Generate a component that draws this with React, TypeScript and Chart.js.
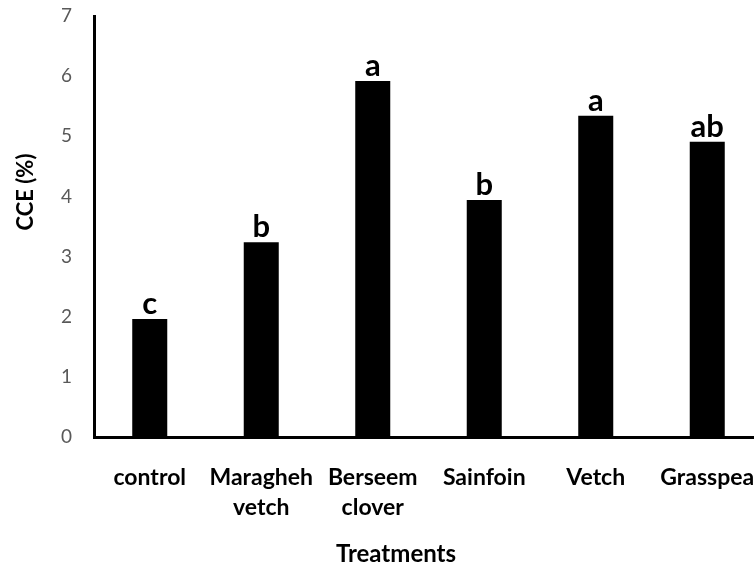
import React, { useEffect, useRef } from "react";
import { Chart, registerables } from "chart.js";

Chart.register(...registerables);

const categories: string[][] = [
  ["control"],
  ["Maragheh", "vetch"],
  ["Berseem", "clover"],
  ["Sainfoin"],
  ["Vetch"],
  ["Grasspea"],
];
const cceValues: number[] = [1.96, 3.24, 5.92, 3.94, 5.34, 4.91];
const groupLetters: string[] = ["c", "b", "a", "b", "a", "ab"];
const yTicks: number[] = [0, 1, 2, 3, 4, 5, 6, 7];
const yTitle = "CCE (%)";
const xTitle = "Treatments";

const FONT = "Lato, 'Open Sans', sans-serif";

export default function App() {
  const canvasRef = useRef<HTMLCanvasElement | null>(null);

  useEffect(() => {
    const canvas = canvasRef.current;
    if (!canvas) return;

    const lettersPlugin = {
      id: "letters",
      afterDatasetsDraw(chart: any) {
        const ctx = chart.ctx;
        const meta = chart.getDatasetMeta(0);
        ctx.save();
        ctx.fillStyle = "#000";
        ctx.font = `bold 31px ${FONT}`;
        ctx.textAlign = "center";
        ctx.textBaseline = "alphabetic";
        meta.data.forEach((el: any, i: number) => {
          ctx.fillText(groupLetters[i], el.x, el.y - 5);
        });
        ctx.restore();
      },
    };

    const titlesPlugin = {
      id: "axisTitles",
      afterDraw(chart: any) {
        const ctx = chart.ctx;
        ctx.save();
        ctx.fillStyle = "#000";
        ctx.font = `bold 22px ${FONT}`;
        ctx.textAlign = "center";
        ctx.textBaseline = "middle";
        ctx.translate(26, 192);
        ctx.rotate(-Math.PI / 2);
        ctx.fillText(yTitle, 0, 0);
        ctx.restore();

        ctx.save();
        ctx.fillStyle = "#000";
        ctx.font = `bold 24px ${FONT}`;
        ctx.textAlign = "center";
        ctx.textBaseline = "alphabetic";
        ctx.fillText(xTitle, 396, 562);
        ctx.restore();
      },
    };

    const chart = new Chart(canvas, {
      type: "bar",
      data: {
        labels: categories,
        datasets: [
          {
            data: cceValues,
            backgroundColor: "#000000",
            borderWidth: 0,
            barPercentage: 0.314,
            categoryPercentage: 1,
          },
        ],
      },
      options: {
        responsive: false,
        animation: false,
        devicePixelRatio: 1,
        layout: { padding: { left: 0, right: 37, top: 16, bottom: 0 } },
        plugins: {
          legend: { display: false },
          tooltip: { enabled: false },
          title: { display: false },
        },
        scales: {
          x: {
            type: "category",
            offset: true,
            grid: { display: false, drawTicks: false },
            border: { display: true, color: "#000", width: 3 },
            ticks: {
              color: "#000",
              padding: 26,
              maxRotation: 0,
              minRotation: 0,
              autoSkip: false,
              font: { family: FONT, size: 23, weight: "bold", lineHeight: "30px" },
            },
            afterFit(scale: any) {
              scale.height = 132;
              scale.paddingLeft = 0;
              scale.paddingRight = 0;
            },
          },
          y: {
            type: "linear",
            min: 0,
            max: 7,
            afterBuildTicks(scale: any) {
              scale.ticks = yTicks.map((v) => ({ value: v }));
            },
            grid: { display: false, drawTicks: false },
            border: { display: true, color: "#000", width: 3 },
            ticks: {
              color: "#595959",
              padding: 22,
              font: { family: FONT, size: 19 },
            },
            afterFit(scale: any) {
              scale.width = 94;
              scale.paddingTop = 0;
              scale.paddingBottom = 0;
            },
          },
        },
      },
      plugins: [lettersPlugin, titlesPlugin],
    } as any);

    return () => {
      chart.destroy();
    };
  }, []);

  return (
    <div
      style={{
        position: "fixed",
        left: 0,
        top: 0,
        width: 754,
        height: 569,
        overflow: "hidden",
        background: "#fff",
      }}
    >
      <canvas
        ref={canvasRef}
        width={800}
        height={569}
        style={{ position: "absolute", left: 0, top: 0, width: 800, height: 569 }}
      />
    </div>
  );
}
